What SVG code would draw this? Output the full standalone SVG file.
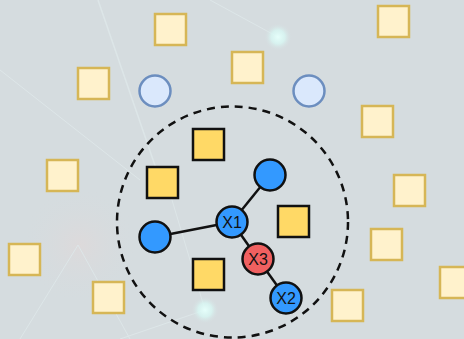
<svg xmlns="http://www.w3.org/2000/svg" width="464" height="339" viewBox="0 0 464 339">
<defs>
<style>
.pale{fill:#fff2cc;stroke:#d6b656;stroke-width:2.5}
.gold{fill:#ffd966;stroke:#111;stroke-width:2.5}
.lb{fill:#dae8fc;stroke:#6c8ebf;stroke-width:2.5}
.bl{fill:#3399ff;stroke:#111;stroke-width:2.5}
.rd{fill:#f06060;stroke:#111;stroke-width:2.5}
.edge{stroke:#111;stroke-width:2.5;fill:none}
.lbl{font-family:"Liberation Sans",Arial,sans-serif;font-size:16px;fill:#111;text-anchor:middle;dominant-baseline:central}
.streak{stroke:#dde6e8;fill:none}
</style>
<radialGradient id="glow"><stop offset="0" stop-color="#e6fffb"/><stop offset="0.5" stop-color="#d8f7f3" stop-opacity="0.8"/><stop offset="1" stop-color="#d5dcdf" stop-opacity="0"/></radialGradient>
<radialGradient id="pink"><stop offset="0" stop-color="#e2d8d8" stop-opacity="0.6"/><stop offset="1" stop-color="#d5dcdf" stop-opacity="0"/></radialGradient>
</defs>
<rect width="464" height="339" fill="#d5dcdf"/>
<g id="background">
<circle cx="80" cy="245" r="60" fill="url(#pink)"/>
<path class="streak" stroke-width="1.5" d="M98 0 L160 180"/>
<path class="streak" stroke-width="1" d="M0 70 L140 180"/>
<path class="streak" stroke-width="1" d="M210 0 L278 37"/>
<path class="streak" stroke-width="1" d="M166 180 L205 310 L120 339"/>
<path class="streak" stroke-width="1" d="M20 339 L78 245 L130 339"/>
<circle cx="278" cy="37" r="14" fill="url(#glow)"/>
<circle cx="205" cy="310" r="14" fill="url(#glow)"/>
</g>
<circle id="cluster" cx="232.5" cy="222" r="115.5" fill="none" stroke="#111" stroke-width="2.5" stroke-dasharray="8 6"/>
<g id="connectors">
<line class="edge" x1="155" y1="237" x2="232" y2="222"/>
<line class="edge" x1="232" y1="222" x2="270" y2="175"/>
<line class="edge" x1="232" y1="222" x2="258" y2="259"/>
<line class="edge" x1="258" y1="259" x2="286" y2="298"/>
</g>
<g id="pale-squares">
<rect id="p1" class="pale" x="155" y="14" width="31" height="31"/>
<rect id="p2" class="pale" x="78" y="68" width="31" height="31"/>
<rect id="p3" class="pale" x="378" y="6" width="31" height="31"/>
<rect id="p4" class="pale" x="232" y="52" width="31" height="31"/>
<rect id="p5" class="pale" x="362" y="106" width="31" height="31"/>
<rect id="p6" class="pale" x="47" y="160" width="31" height="31"/>
<rect id="p7" class="pale" x="9" y="244" width="31" height="31"/>
<rect id="p8" class="pale" x="93" y="282" width="31" height="31"/>
<rect id="p9" class="pale" x="394" y="175" width="31" height="31"/>
<rect id="p10" class="pale" x="371" y="229" width="31" height="31"/>
<rect id="p11" class="pale" x="440" y="267" width="31" height="31"/>
<rect id="p12" class="pale" x="332" y="290" width="31" height="31"/>
</g>
<g id="pale-circles">
<circle id="c1" class="lb" cx="155" cy="91" r="15.5"/>
<circle id="c2" class="lb" cx="309" cy="91" r="15.5"/>
</g>
<g id="gold-squares">
<rect id="g1" class="gold" x="193" y="129" width="31" height="31"/>
<rect id="g2" class="gold" x="147" y="167" width="31" height="31"/>
<rect id="g3" class="gold" x="193" y="259" width="31" height="31"/>
<rect id="g4" class="gold" x="278" y="206" width="31" height="31"/>
</g>
<g id="nodeA"><circle class="bl" cx="155" cy="237" r="15.5"/></g>
<g id="nodeB"><circle class="bl" cx="270" cy="175" r="15.5"/></g>
<g id="X1"><circle class="bl" cx="232" cy="222" r="15.5"/><text class="lbl" x="232" y="222">X1</text></g>
<g id="X3"><circle class="rd" cx="258" cy="259" r="15.5"/><text class="lbl" x="258" y="259">X3</text></g>
<g id="X2"><circle class="bl" cx="286" cy="298" r="15.5"/><text class="lbl" x="286" y="298">X2</text></g>
</svg>
